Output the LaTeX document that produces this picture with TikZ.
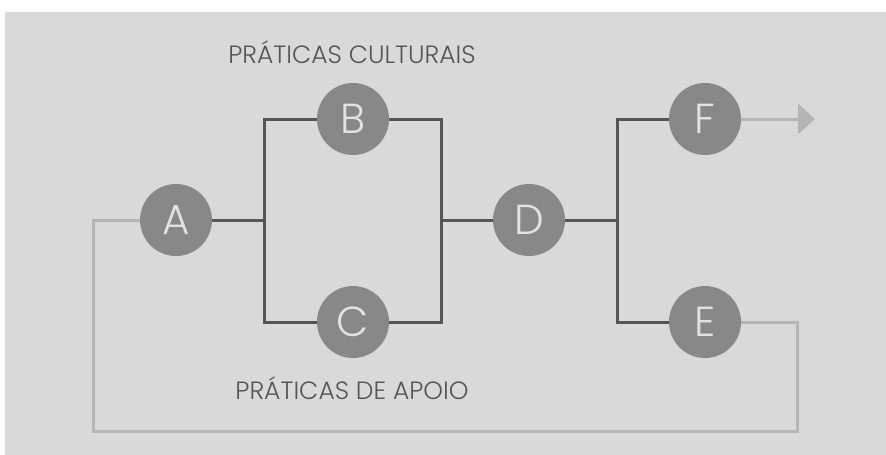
\documentclass[tikz,border=0pt]{standalone}
\usepackage{fontspec}
\setmainfont{Poppins}[UprightFont=* Light]
\usetikzlibrary{arrows.meta}

\definecolor{bggray}{HTML}{D9D9D9}
\definecolor{circgray}{HTML}{888888}
\definecolor{darkline}{HTML}{555555}
\definecolor{lightline}{HTML}{B5B5B5}
\definecolor{lettergray}{HTML}{E2E2E2}
\definecolor{labelgray}{HTML}{555555}

\tikzset{
  stage/.style={circle, fill=circgray, minimum size=72pt, inner sep=0pt,
    text=lettergray, font=\fontsize{42}{42}\selectfont},
  main/.style={draw=darkline, line width=3pt},
  back/.style={draw=lightline, line width=3pt},
  label/.style={text=labelgray, font=\fontsize{25}{25}\selectfont}
}

\begin{document}
\begin{tikzpicture}[x=1pt, y=-1pt]

% Background
\useasboundingbox (0,0) rectangle (886,455);
\fill[bggray] (5,12) rectangle (886,455);

% Stages
\node[stage] (A) at (176,220) {A};
\node[stage] (B) at (353,119) {B};
\node[stage] (C) at (353,322) {C};
\node[stage] (D) at (529,220) {D};
\node[stage] (F) at (705,119) {F};
\node[stage] (E) at (705,322) {E};

% Coordinates for branching
\coordinate (split1) at (264,220);
\coordinate (join1) at (441,220);
\coordinate (split2) at (617,220);
\coordinate (out) at (815,119);
\coordinate (loopR) at (797,431);
\coordinate (loopL) at (93,431);

% Main flow
\draw[main] (A) -- (split1);
\draw[main] (B.west) -| (split1) |- (C.west);
\draw[main] (B.east) -| (join1) |- (C.east);
\draw[main] (join1) -- (D);
\draw[main] (D) -- (split2);
\draw[main] (F.west) -| (split2) |- (E.west);

% Feedback and output
\draw[back, -{Triangle[length=17pt 0, width=30pt 0]}] (F) -- (out);
\draw[back] (E.east) -| (loopR) -- (loopL) |- (A.west);

% Labels
\node[label] (cult) at (352,52) {PRÁTICAS CULTURAIS};
\node[label] (apoio) at (352,388) {PRÁTICAS DE APOIO};

\end{tikzpicture}
\end{document}
